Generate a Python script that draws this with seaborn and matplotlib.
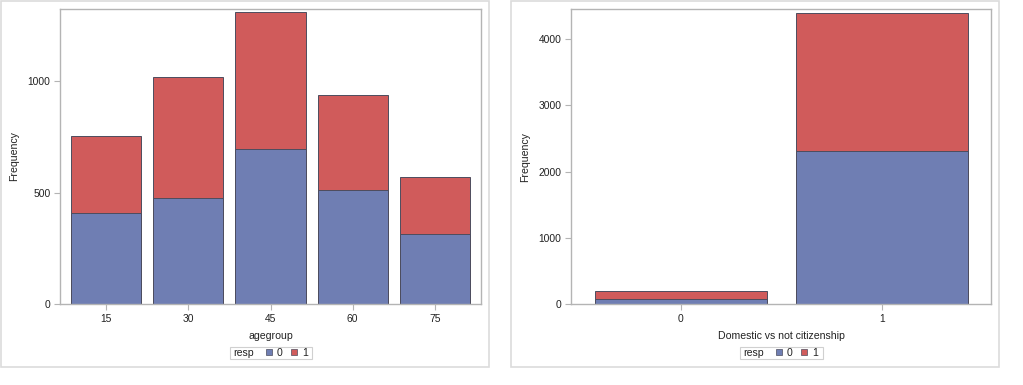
import matplotlib
matplotlib.use("Agg")
import matplotlib.pyplot as plt
import seaborn as sns
import pandas as pd
from matplotlib.patches import Patch, Rectangle

# ---- data ----
age_groups = ["15", "30", "45", "60", "75"]
age_resp0 = [407, 477, 697, 513, 316]
age_resp1 = [349, 541, 613, 424, 254]

cit_groups = ["0", "1"]
cit_resp0 = [80, 2313]
cit_resp1 = [125, 2074]

legend_title = "resp"
legend_labels = ["0", "1"]

BLUE = "#6F7EB3"
RED = "#D05B5B"
EDGE = "#4d4d5e"
FRAME = "#b4b4b4"
TXT = "#222222"

sns.set_theme(style="white")
plt.rcParams["font.family"] = ["Liberation Sans", "DejaVu Sans"]
plt.rcParams["font.size"] = 7.5

fig = plt.figure(figsize=(10.23, 3.85), dpi=100)
W, H = 1023, 385


def ax_rect(l, r, t, b):
    return [l / W, (H - b) / H, (r - l) / W, (b - t) / H]


def fx(x):
    return x / W


def fy(y):
    return (H - y) / H


def panel(ax, cats, r0, r1, xlabel, ylim, yticks, xlim, leg_box):
    df = pd.DataFrame({"cat": cats,
                       "total": [a + b for a, b in zip(r0, r1)],
                       "r0": r0})
    sns.barplot(data=df, x="cat", y="total", color=RED, saturation=1,
                width=0.856, edgecolor=EDGE, linewidth=0.7, ax=ax)
    sns.barplot(data=df, x="cat", y="r0", color=BLUE, saturation=1,
                width=0.856, edgecolor=EDGE, linewidth=0.7, ax=ax)
    ax.set_xlim(*xlim)
    ax.set_ylim(*ylim)
    ax.set_yticks(yticks)
    ax.set_yticklabels([str(v) for v in yticks])
    ax.set_xlabel(xlabel, fontsize=7.6, color=TXT, labelpad=5)
    ax.set_ylabel("Frequency", fontsize=7.6, color=TXT, labelpad=6)
    for s in ax.spines.values():
        s.set_color(FRAME)
        s.set_linewidth(1.0)
    ax.tick_params(axis="both", which="both", direction="out", length=4,
                   width=0.8, color=FRAME, labelsize=7.4, labelcolor=TXT,
                   left=True, bottom=True, pad=3)

    # legend: framed row "resp  [0]  [1]"
    l, t, r, b = leg_box
    yc = (t + b) / 2
    fig.patches.append(Rectangle((fx(l), fy(b)), (r - l) / W, (b - t) / H,
                                 transform=fig.transFigure, facecolor="white",
                                 edgecolor="#d0d0d0", linewidth=0.8))
    fig.text(fx(l + 3.5), fy(yc), legend_title, fontsize=7.6, color=TXT,
             ha="left", va="center")
    handles = [Patch(facecolor=BLUE, edgecolor=EDGE, linewidth=0.5),
               Patch(facecolor=RED, edgecolor=EDGE, linewidth=0.5)]
    leg = fig.legend(handles, legend_labels, ncol=2, loc="center",
                     bbox_to_anchor=(fx(l + 57), fy(yc)),
                     frameon=False, fontsize=7.6,
                     handlelength=0.6, handleheight=0.6, handletextpad=0.45,
                     columnspacing=0.8, borderpad=0.0, borderaxespad=0)
    for tx in leg.get_texts():
        tx.set_color(TXT)


ax1 = fig.add_axes(ax_rect(60.3, 480.7, 8.7, 304))
panel(ax1, age_groups, age_resp0, age_resp1, "agegroup",
      (0, 1326), [0, 500, 1000], (-0.557, 4.557), (229.7, 346.7, 312.3, 358.7))

ax2 = fig.add_axes(ax_rect(571.3, 991.3, 9.3, 304.3))
panel(ax2, cit_groups, cit_resp0, cit_resp1, "Domestic vs not citizenship",
      (0, 4443), [0, 1000, 2000, 3000, 4000], (-0.545, 1.545),
      (740.0, 346.7, 822.7, 358.7))

# outer panel frames
for (l, t, r, b) in [(1, 1, 489, 367), (510.7, 1, 999.3, 367)]:
    fig.patches.append(Rectangle((fx(l), fy(b)), (r - l) / W, (b - t) / H,
                                 transform=fig.transFigure, fill=False,
                                 edgecolor="#dcdcdc", linewidth=1.2))

fig.savefig("out.png", dpi=100)
